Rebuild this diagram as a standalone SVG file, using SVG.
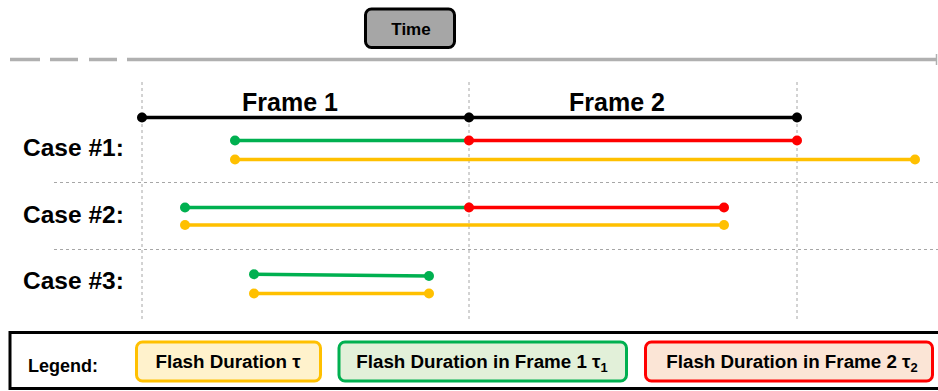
<svg xmlns="http://www.w3.org/2000/svg" width="938" height="391" viewBox="0 0 938 391">
<style>
text{font-family:"Liberation Sans",Arial,sans-serif;font-weight:bold;fill:#000}
.grid{stroke:#a6a6a6;stroke-width:1;stroke-dasharray:3 3;fill:none}
.seg{stroke-width:3.5;fill:none;stroke-linecap:round}
.g{stroke:#00b050}.gf{fill:#00b050}
.r{stroke:#ff0000}.rf{fill:#ff0000}
.y{stroke:#ffc000}.yf{fill:#ffc000}
.k{stroke:#000}.kf{fill:#000}
.lab{font-size:25px}
.case{font-size:24.5px}
.leg{font-size:18.8px}
</style>
<rect width="938" height="391" fill="#fff"/>
<g id="time">
<rect x="365.5" y="9" width="89" height="38.5" rx="6" fill="#a6a6a6" stroke="#000" stroke-width="3"/>
<text x="411" y="35" font-size="17" text-anchor="middle">Time</text>
</g>
<g id="timeline">
<path d="M10 59.5H40M50 59.5H78M89 59.5H117M127 59.5H936" stroke="#b0b0b0" stroke-width="3.5" fill="none"/>
<path d="M936.5 54V65" stroke="#b0b0b0" stroke-width="1.5"/>
</g>
<g id="grid">
<path class="grid" d="M142 82V322M469 82V322M797 82V322"/>
<path class="grid" d="M54 182.5H938M54 249.5H938"/>
</g>
<g id="frames">
<text x="290" y="111" class="lab" text-anchor="middle">Frame 1</text>
<text x="617" y="111" class="lab" text-anchor="middle">Frame 2</text>
<path class="seg k" d="M142 117.5H797" stroke-width="3"/>
<circle class="kf" cx="142" cy="117.5" r="5"/>
<circle class="kf" cx="469" cy="117.5" r="5"/>
<circle class="kf" cx="797" cy="117.5" r="5"/>
</g>
<g id="case1">
<text x="23" y="156" class="case">Case #1:</text>
<path class="seg g" d="M235 140.5H469"/>
<path class="seg r" d="M469 140.5H797"/>
<path class="seg y" d="M235 159.5H915"/>
<circle class="gf" cx="235" cy="140.5" r="5"/>
<circle class="rf" cx="469" cy="140.5" r="5"/>
<circle class="rf" cx="797" cy="140.5" r="5"/>
<circle class="yf" cx="235" cy="159.5" r="5"/>
<circle class="yf" cx="915" cy="159.5" r="5"/>
</g>
<g id="case2">
<text x="23" y="223" class="case">Case #2:</text>
<path class="seg g" d="M185 207.5H469"/>
<path class="seg r" d="M469 207.5H724"/>
<path class="seg y" d="M185 225H724"/>
<circle class="gf" cx="185" cy="207.5" r="5"/>
<circle class="rf" cx="469" cy="207.5" r="5"/>
<circle class="rf" cx="724" cy="207.5" r="5"/>
<circle class="yf" cx="185" cy="225" r="5"/>
<circle class="yf" cx="724" cy="225" r="5"/>
</g>
<g id="case3">
<text x="23" y="289" class="case">Case #3:</text>
<path class="seg g" d="M254 274.3L429 276"/>
<path class="seg y" d="M254 293.5H429"/>
<circle class="gf" cx="254" cy="274.3" r="5"/>
<circle class="gf" cx="429" cy="276" r="5"/>
<circle class="yf" cx="254" cy="293.5" r="5"/>
<circle class="yf" cx="429" cy="293.5" r="5"/>
</g>
<g id="legend">
<rect x="10" y="332.5" width="930" height="56" fill="#fff" stroke="#000" stroke-width="3"/>
<text x="28" y="372" font-size="18">Legend:</text>
<g id="leg-tau">
<rect x="136.5" y="342" width="184" height="39" rx="6" fill="#fff2cc" stroke="#ffc000" stroke-width="3"/>
<text x="228" y="368" class="leg" text-anchor="middle">Flash Duration τ</text>
</g>
<g id="leg-tau1">
<rect x="339" y="342" width="287.5" height="39" rx="6" fill="#e2f0d9" stroke="#00b050" stroke-width="3"/>
<text x="482" y="368" class="leg" text-anchor="middle">Flash Duration in Frame 1 τ<tspan font-size="13" dy="4">1</tspan></text>
</g>
<g id="leg-tau2">
<rect x="645.5" y="342" width="287" height="39" rx="6" fill="#fbe5d6" stroke="#ff0000" stroke-width="3"/>
<text x="792" y="368" class="leg" text-anchor="middle">Flash Duration in Frame 2 τ<tspan font-size="13" dy="4">2</tspan></text>
</g>
</g>
</svg>
